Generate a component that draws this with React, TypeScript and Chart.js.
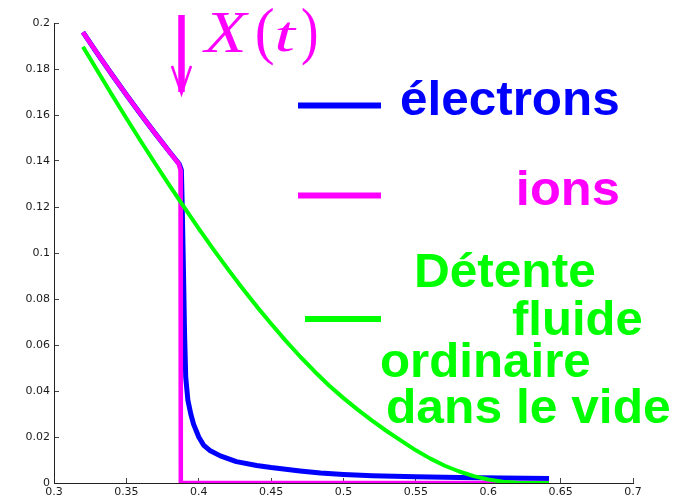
import React, { useEffect, useRef } from "react";
import { Chart, registerables } from "chart.js";

Chart.register(...registerables);

// ---------- data ----------
const electronX = [
  0.32, 0.33, 0.34, 0.35, 0.36, 0.37, 0.38, 0.3865, 0.388, 0.3886, 0.3895, 0.3902,
  0.391, 0.3925, 0.3945, 0.3964, 0.4, 0.4033, 0.408, 0.4149, 0.426, 0.44, 0.45, 0.47,
  0.4841, 0.5, 0.52, 0.55, 0.58, 0.61, 0.642,
];
const electronY = [
  0.196, 0.1867, 0.1776, 0.1688, 0.1602, 0.1519, 0.1438, 0.1387, 0.136, 0.12, 0.09, 0.065,
  0.046, 0.036, 0.03, 0.0256, 0.02, 0.0165, 0.014, 0.0118, 0.0093, 0.0076, 0.0067, 0.0052,
  0.0043, 0.0037, 0.0032, 0.0027, 0.0024, 0.0022, 0.002,
];

const ionX = [0.32, 0.33, 0.34, 0.35, 0.36, 0.37, 0.38, 0.3862, 0.3874, 0.3876, 0.642];
const ionY = [0.196, 0.1867, 0.1776, 0.1688, 0.1602, 0.1519, 0.1438, 0.1387, 0.136, 0.0, 0.0];

const fluidX = [
  0.32, 0.33, 0.34, 0.35, 0.36, 0.37, 0.38, 0.39, 0.4, 0.41, 0.42, 0.43, 0.44, 0.45, 0.46,
  0.47, 0.48, 0.49, 0.5, 0.51, 0.52, 0.53, 0.54, 0.55, 0.56, 0.57, 0.58, 0.59, 0.6, 0.61,
  0.62, 0.63, 0.642,
];
const fluidY = [
  0.1897, 0.1792, 0.1688, 0.1586, 0.1486, 0.1388, 0.1292, 0.1198, 0.1106, 0.1017, 0.0931,
  0.0848, 0.0768, 0.0692, 0.0619, 0.055, 0.0485, 0.0424, 0.0369, 0.0318, 0.027, 0.0225,
  0.0183, 0.0142, 0.0106, 0.0075, 0.005, 0.003, 0.0015, 0.0006, 0.0001, 0.0, 0.0,
];

const xTicks = [0.3, 0.35, 0.4, 0.45, 0.5, 0.55, 0.6, 0.65, 0.7];
const xTickLabels = ["0.3", "0.35", "0.4", "0.45", "0.5", "0.55", "0.6", "0.65", "0.7"];
const yTicks = [0, 0.02, 0.04, 0.06, 0.08, 0.1, 0.12, 0.14, 0.16, 0.18, 0.2];
const yTickLabels = ["0", "0.02", "0.04", "0.06", "0.08", "0.1", "0.12", "0.14", "0.16", "0.18", "0.2"];

const seriesLabels = ["électrons", "ions", "Détente fluide ordinaire dans le vide"];
const fluidLabelLines = ["Détente", "fluide", "ordinaire", "dans le vide"];
const markerLabel = ["X", "(", "t", ")"];
const markerX = 0.3875;

// ---------- styles ----------
const BLUE = "#0000ff";
const MAGENTA = "#ff00ff";
const GREEN = "#00ff00";
const LEGEND_FONT = "bold 48px 'Liberation Sans', Arial, sans-serif";

function drawFitted(ctx: CanvasRenderingContext2D, text: string, font: string, color: string,
  left: number, baseline: number, width: number) {
  ctx.font = font;
  const m = ctx.measureText(text);
  const w = m.actualBoundingBoxLeft + m.actualBoundingBoxRight;
  const sx = width / w;
  ctx.save();
  ctx.translate(left, baseline);
  ctx.scale(sx, 1);
  ctx.fillStyle = color;
  ctx.textAlign = "left";
  ctx.textBaseline = "alphabetic";
  ctx.fillText(text, m.actualBoundingBoxLeft, 0);
  ctx.restore();
}

function drawBox(ctx: CanvasRenderingContext2D, text: string, font: string, color: string,
  l: number, t: number, r: number, b: number) {
  ctx.font = font;
  ctx.textAlign = "left";
  ctx.textBaseline = "alphabetic";
  const m = ctx.measureText(text);
  const w = m.actualBoundingBoxLeft + m.actualBoundingBoxRight;
  const h = m.actualBoundingBoxAscent + m.actualBoundingBoxDescent;
  ctx.save();
  ctx.translate(l, t);
  ctx.scale((r - l) / w, (b - t) / h);
  ctx.fillStyle = color;
  ctx.fillText(text, m.actualBoundingBoxLeft, m.actualBoundingBoxAscent);
  ctx.restore();
}

const overlayPlugin = {
  id: "overlay",
  afterDatasetsDraw(chart: any) {
    const ctx: CanvasRenderingContext2D = chart.ctx;
    const xs = chart.scales.x;
    ctx.save();
    // arrow marking X(t)
    const ax = Math.round(xs.getPixelForValue(markerX)) + 0.5;
    ctx.strokeStyle = MAGENTA;
    ctx.lineCap = "butt";
    ctx.lineWidth = 6.5;
    ctx.beginPath();
    ctx.moveTo(ax, 15);
    ctx.lineTo(ax, 92);
    ctx.stroke();
    ctx.lineWidth = 2.5;
    ctx.lineJoin = "miter";
    ctx.beginPath();
    ctx.moveTo(ax - 9.5, 66);
    ctx.lineTo(ax, 93.5);
    ctx.lineTo(ax + 9.5, 66);
    ctx.stroke();

    const it = "italic 56px 'Liberation Serif', 'DejaVu Serif', serif";
    const up = "56px 'Liberation Serif', 'DejaVu Serif', serif";
    drawBox(ctx, markerLabel[0], it, MAGENTA, 202, 12, 250, 52);
    drawBox(ctx, markerLabel[1], up, MAGENTA, 257, 7, 273, 67);
    drawBox(ctx, markerLabel[2], it, MAGENTA, 277, 21, 297, 52);
    drawBox(ctx, markerLabel[3], up, MAGENTA, 302, 7, 317, 67);

    // legend lines
    ctx.lineWidth = 6;
    ctx.strokeStyle = BLUE;
    ctx.beginPath(); ctx.moveTo(298, 105.5); ctx.lineTo(381, 105.5); ctx.stroke();
    ctx.strokeStyle = MAGENTA;
    ctx.beginPath(); ctx.moveTo(298, 195.5); ctx.lineTo(381, 195.5); ctx.stroke();
    ctx.strokeStyle = GREEN;
    ctx.beginPath(); ctx.moveTo(305, 319); ctx.lineTo(381, 319); ctx.stroke();

    // legend texts
    drawFitted(ctx, seriesLabels[0], LEGEND_FONT, BLUE, 401, 115, 217);
    drawFitted(ctx, seriesLabels[1], LEGEND_FONT, MAGENTA, 519, 205, 99);
    drawFitted(ctx, fluidLabelLines[0], LEGEND_FONT, GREEN, 417, 287, 178);
    drawFitted(ctx, fluidLabelLines[1], LEGEND_FONT, GREEN, 512, 335, 130);
    drawFitted(ctx, fluidLabelLines[2], LEGEND_FONT, GREEN, 381, 377, 209);
    drawFitted(ctx, fluidLabelLines[3], LEGEND_FONT, GREEN, 387, 423, 283);
    ctx.restore();
  },
};

function zip(xs: number[], ys: number[]) {
  return xs.map((x, i) => ({ x, y: ys[i] }));
}

export default function App() {
  const ref = useRef<HTMLCanvasElement | null>(null);

  useEffect(() => {
    if (!ref.current) return;
    const tickFont = { family: "'DejaVu Sans', sans-serif", size: 11 };
    const chart = new Chart(ref.current, {
      type: "line",
      data: {
        datasets: [
          {
            label: seriesLabels[2],
            data: zip(fluidX, fluidY),
            borderColor: GREEN,
            borderWidth: 4,
            order: 0,
          },
          {
            label: seriesLabels[1],
            data: zip(ionX, ionY),
            borderColor: MAGENTA,
            borderWidth: 4.5,
            order: 1,
          },
          {
            label: seriesLabels[0],
            data: zip(electronX, electronY),
            borderColor: BLUE,
            borderWidth: 5,
            order: 2,
          },
        ],
      },
      options: {
        animation: false,
        responsive: false,
        devicePixelRatio: 1,
        layout: { padding: { top: 23, right: 53, left: 0, bottom: 0 } },
        plugins: { legend: { display: false }, tooltip: { enabled: false } },
        elements: {
          point: { radius: 0 },
          line: { tension: 0, borderCapStyle: "butt", borderJoinStyle: "round", fill: false },
        },
        scales: {
          x: {
            type: "linear",
            min: 0.3,
            max: 0.7,
            afterBuildTicks: (s: any) => { s.ticks = xTicks.map((v) => ({ value: v })); },
            afterFit: (s: any) => { s.height = 18; },
            ticks: {
              callback: (_v: any, i: number) => xTickLabels[i],
              padding: 8,
              maxRotation: 0,
              autoSkip: false,
              color: "#1a1a1a",
              font: tickFont,
            },
            grid: { drawOnChartArea: false, drawTicks: true, tickLength: -5, color: "#444" },
            border: { display: true, color: "#222", width: 1 },
          },
          y: {
            type: "linear",
            min: 0,
            max: 0.2,
            afterBuildTicks: (s: any) => { s.ticks = yTicks.map((v) => ({ value: v })); },
            afterFit: (s: any) => { s.width = 54; },
            ticks: {
              callback: (_v: any, i: number) => yTickLabels[i],
              padding: 9,
              autoSkip: false,
              color: "#1a1a1a",
              font: tickFont,
            },
            grid: { drawOnChartArea: false, drawTicks: true, tickLength: -5, color: "#444" },
            border: { display: true, color: "#222", width: 1 },
          },
        },
      },
      plugins: [overlayPlugin],
    } as any);
    return () => chart.destroy();
  }, []);

  return (
    <div style={{ position: "fixed", left: 0, top: 0, width: 686, height: 501, background: "#fff" }}>
      <canvas ref={ref} width={686} height={501} style={{ display: "block", width: 686, height: 501 }} />
    </div>
  );
}
